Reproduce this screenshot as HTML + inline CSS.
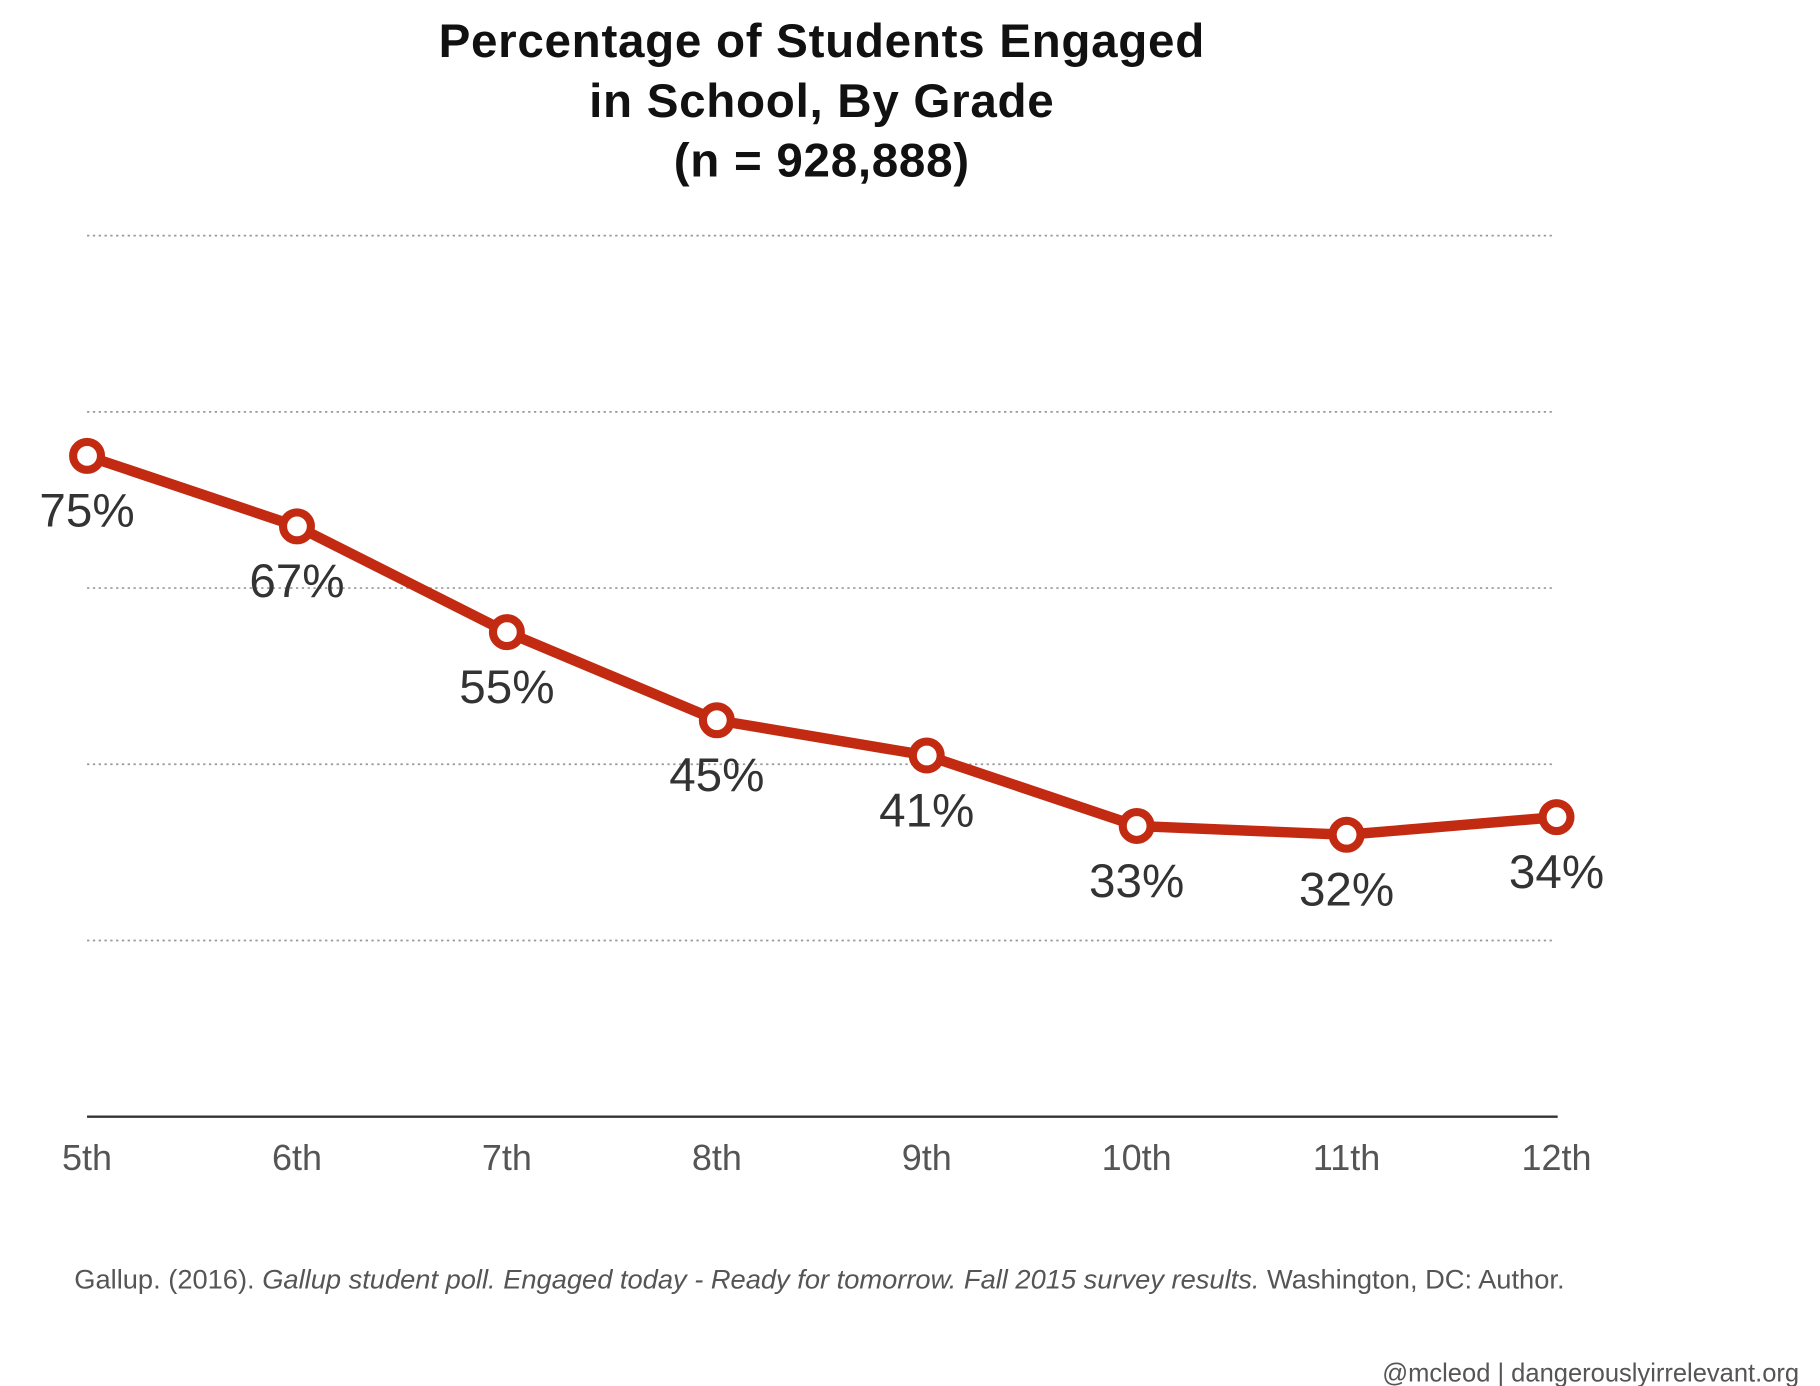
<!DOCTYPE html>
<html><head><meta charset="utf-8"><style>
html,body{margin:0;padding:0;background:#fff;}
svg{display:block;font-family:"Liberation Sans",Arial,sans-serif;}
</style></head><body>
<svg id="chart" width="1820" height="1386" viewBox="0 0 1568 1194" preserveAspectRatio="none" xmlns="http://www.w3.org/2000/svg">
<g font-weight="bold" font-size="41" fill="#111" text-anchor="middle" letter-spacing="0.6">
<text x="708" y="49">Percentage of Students Engaged</text>
<text x="708" y="101">in School, By Grade</text>
<text x="708" y="152">(n = 928,888)</text>
</g>
<g id="grid"></g>
<line x1="75" y1="962" x2="1342" y2="962" stroke="#333" stroke-width="2"/>
<g id="ticks"></g>
<g id="series"></g>
<text x="64" y="1110" font-size="23.5" fill="#555">Gallup. (2016). <tspan font-style="italic">Gallup student poll. Engaged today - Ready for tomorrow. Fall 2015 survey results.</tspan> Washington, DC: Author.</text>
<text x="1550" y="1190" font-size="22" fill="#555" text-anchor="end">@mcleod | dangerouslyirrelevant.org</text>
</svg>
<script>
const grades = ["5th","6th","7th","8th","9th","10th","11th","12th"];
const engaged = [75,67,55,45,41,33,32,34];
const gridValues = [20,40,60,80,100];

const NS="http://www.w3.org/2000/svg";
const x0=75, x1=1341, yBase=962, yTop=203;
function xScale(i){return x0+(x1-x0)*i/(grades.length-1);}
function yScale(v){return yBase-(yBase-yTop)*v/100;}
function mk(tag,attrs,parent){const e=document.createElementNS(NS,tag);for(const k in attrs)e.setAttribute(k,attrs[k]);parent.appendChild(e);return e;}

const grid=document.getElementById('grid');
gridValues.forEach(v=>{
  const l=mk('line',{x1:75,x2:1338,y1:yScale(v),y2:yScale(v),stroke:'#999','stroke-width':1.5,'stroke-dasharray':'2 3'},grid);
  
  
});
const ticks=document.getElementById('ticks');
grades.forEach((g,i)=>{
  const t=mk('text',{x:xScale(i),y:1008,'font-size':31,fill:'#555','text-anchor':'middle'},ticks);
  t.textContent=g;
  
  
});
const s=document.getElementById('series');
const pl=mk('polyline',{points:engaged.map((v,i)=>xScale(i)+','+yScale(v)).join(' '),fill:'none',stroke:'#c22a12','stroke-width':9,'stroke-linejoin':'round'},s);


engaged.forEach((v,i)=>{
  const c=mk('circle',{cx:xScale(i),cy:yScale(v),r:12,fill:'#fff',stroke:'#c22a12','stroke-width':7},s);
  
  
  const t=mk('text',{x:xScale(i),y:yScale(v)+61,'font-size':41,fill:'#333','text-anchor':'middle'},s);
  t.textContent=v+'%';
  
  
});
</script>
</body></html>
